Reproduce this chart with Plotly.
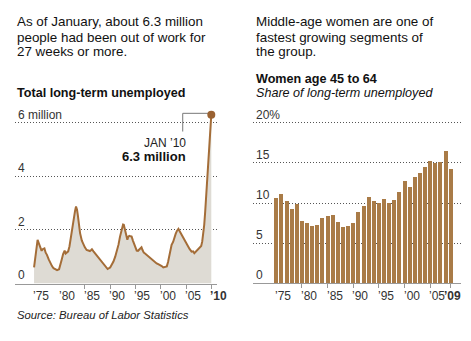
import plotly.graph_objects as go

# ---------------- data ----------------
lt_years = [1974.95, 1975.3, 1975.65, 1975.9, 1976.2, 1976.45, 1976.65, 1977.0, 1977.25, 1977.5,
            1977.85, 1978.2, 1978.5, 1978.8, 1979.15, 1979.5, 1979.9, 1980.2, 1980.4, 1980.7,
            1981.0, 1981.2, 1981.45, 1981.7, 1981.95, 1982.2, 1982.4, 1982.65, 1982.85, 1983.05,
            1983.25, 1983.45, 1983.6, 1983.85, 1984.05, 1984.4, 1984.7, 1985.0, 1985.35, 1985.7,
            1986.0, 1986.2, 1986.4, 1986.7, 1987.0, 1987.35, 1987.7, 1988.05, 1988.4, 1988.7,
            1989.0, 1989.25, 1989.5, 1989.75, 1990.0, 1990.3, 1990.65, 1991.0, 1991.3, 1991.65,
            1991.95, 1992.2, 1992.4, 1992.55, 1992.7, 1992.9, 1993.05, 1993.2, 1993.4, 1993.6,
            1993.8, 1994.05, 1994.25, 1994.5, 1994.8, 1995.05, 1995.25, 1995.5, 1995.7, 1996.0,
            1996.2, 1996.4, 1996.65, 1996.9, 1997.2, 1997.5, 1997.85, 1998.2, 1998.5, 1998.85,
            1999.2, 1999.5, 1999.85, 2000.2, 2000.5, 2000.85, 2001.2, 2001.45, 2001.65, 2001.9,
            2002.15, 2002.45, 2002.7, 2002.95, 2003.2, 2003.5, 2003.75, 2003.95, 2004.2, 2004.5,
            2004.8, 2005.1, 2005.4, 2005.7, 2006.1, 2006.4, 2006.65, 2006.9, 2007.1, 2007.4,
            2007.75, 2008.0, 2008.2, 2008.4, 2008.6, 2008.8, 2008.95, 2009.1, 2009.2, 2009.4,
            2009.55, 2009.75, 2009.9, 2010.0]
lt_millions = [0.6, 1.2, 1.63, 1.5, 1.38, 1.22, 1.28, 1.31, 1.15, 1.07,
               0.9, 0.75, 0.65, 0.57, 0.52, 0.5, 0.53, 0.7, 0.88, 1.1,
               1.23, 1.12, 1.15, 1.2, 1.38, 1.7, 2.0, 2.35, 2.62, 2.7,
               2.87, 2.75, 2.56, 2.2, 1.88, 1.6, 1.44, 1.35, 1.25, 1.22,
               1.21, 1.24, 1.28, 1.2, 1.13, 1.04, 0.94, 0.85, 0.78, 0.7,
               0.65, 0.6, 0.54, 0.57, 0.6, 0.7, 0.82, 1.0, 1.19, 1.45,
               1.75, 2.0, 2.15, 2.2, 2.19, 2.05, 1.94, 1.8, 1.63, 1.75,
               1.78, 1.76, 1.75, 1.6, 1.44, 1.3, 1.23, 1.22, 1.25, 1.3,
               1.35, 1.25, 1.15, 1.12, 1.07, 1.0, 0.94, 0.9, 0.84, 0.8,
               0.75, 0.72, 0.69, 0.65, 0.6, 0.62, 0.64, 0.8, 1.0, 1.2,
               1.44, 1.55, 1.75, 1.85, 1.96, 2.04, 1.95, 1.88, 1.8, 1.69,
               1.6, 1.47, 1.38, 1.29, 1.19, 1.2, 1.13, 1.18, 1.23, 1.26,
               1.32, 1.4, 1.56, 1.85, 2.19, 2.7, 3.18, 3.7, 4.18, 4.7,
               5.18, 5.8, 6.0, 6.3]

women_years = list(range(1975, 2010))
women_share = [10.6, 11.1, 10.25, 9.3, 9.9, 7.8, 7.5, 7.1, 7.2, 8.1,
               8.4, 8.5, 7.6, 7.0, 7.1, 7.5, 8.9, 9.6, 10.8, 10.3,
               9.95, 10.5, 9.95, 10.4, 11.4, 12.7, 12.0, 13.25, 13.7, 14.5,
               15.2, 15.0, 15.05, 16.5, 14.25]

left_tick_vals = [1975, 1980, 1985, 1990, 1995, 2000, 2005, 2010]
left_tick_text = ["’75", "’80", "’85", "’90", "’95", "’00", "’05", "<b>’10</b>"]
right_tick_vals = [1975, 1980, 1985, 1990, 1995, 2000, 2005, 2009]
right_tick_text = ["’75", "’80", "’85", "’90", "’95", "’00", "’05", "<b>’09</b>"]
left_y_vals = [0, 2, 4, 6]
left_y_text = ["0", "2", "4", "6 million"]
right_y_vals = [0, 5, 10, 15, 20]
right_y_text = ["0", "5", "10", "15", "20%"]

# ---------------- figure ----------------
W, H = 471, 341
FONT = "Liberation Sans, Arial, Helvetica, sans-serif"
LINE_C = "#a46d38"
FILL_C = "#dedbd4"
BAR_C = "#a97b47"
GRID_C = "#555555"
AX_C = "#999999"


def px_x(p):
    return p / W


def px_y(p):
    return 1 - p / H


fig = go.Figure()

fig.add_trace(go.Scatter(
    x=lt_years, y=lt_millions, mode="lines",
    line=dict(color=LINE_C, width=2),
    fill="tozeroy", fillcolor=FILL_C,
    xaxis="x", yaxis="y", hoverinfo="skip", showlegend=False))

fig.add_trace(go.Scatter(
    x=[lt_years[-1]], y=[lt_millions[-1]], mode="markers",
    marker=dict(color="#9a6232", size=8),
    xaxis="x", yaxis="y", hoverinfo="skip", showlegend=False, cliponaxis=False))

fig.add_trace(go.Bar(
    x=women_years, y=women_share, marker=dict(color=BAR_C, line=dict(width=0)),
    width=0.78, xaxis="x2", yaxis="y2", hoverinfo="skip", showlegend=False))

# axis geometry (pixels)
L_x0, L_x1 = 15, 217
R_x0, R_x1 = 253, 461
base_px = 283.5
top_px = 100

l_ppy = (211.3 - 34.3) / 35.0
l_range = [1975 - (34.3 - L_x0) / l_ppy, 2010 + (L_x1 - 211.3) / l_ppy]
r_ppy = (450.7 - 276.3) / 34.0
r_range = [1975 - (276.3 - R_x0) / r_ppy, 2009 + (R_x1 - 450.7) / r_ppy]
l_yppu = (283.5 - 122.7) / 6.0
r_yppu = (283.3 - 122.7) / 20.0

tickfont = dict(family=FONT, size=12, color="#333333")

xcommon = dict(showgrid=False, zeroline=False, showline=True, linecolor=AX_C, linewidth=1,
               ticks="outside", ticklen=4, tickcolor=AX_C, showticklabels=False,
               fixedrange=True)
ycommon = dict(showgrid=True, gridcolor=GRID_C, griddash="1px,2px", gridwidth=1,
               zeroline=False, showline=False, ticks="", tickfont=tickfont,
               ticklabelposition="inside top", layer="above traces", fixedrange=True)

fig.update_layout(
    width=W, height=H, autosize=False,
    margin=dict(l=0, r=0, t=0, b=0, pad=0),
    paper_bgcolor="white", plot_bgcolor="white",
    font=dict(family=FONT, color="#222222"),
    xaxis=dict(domain=[px_x(L_x0), px_x(L_x1)], range=l_range,
               tickvals=left_tick_vals, anchor="y", **xcommon),
    yaxis=dict(domain=[px_y(base_px), px_y(top_px)], range=[0, (base_px - top_px) / l_yppu],
               tickvals=left_y_vals, ticktext=left_y_text, anchor="x", **ycommon),
    xaxis2=dict(domain=[px_x(R_x0), px_x(R_x1)], range=r_range,
                tickvals=right_tick_vals, anchor="y2", **xcommon),
    yaxis2=dict(domain=[px_y(283.3), px_y(top_px)], range=[0, (283.3 - top_px) / r_yppu],
                tickvals=right_y_vals, ticktext=right_y_text, anchor="x2", **ycommon),
    bargap=0,
)

# leader line for Jan '10
lead_x = 2004.35
fig.add_shape(type="line", xref="x", yref="y", x0=lt_years[-1], y0=6.35, x1=lead_x, y1=6.35,
              line=dict(color="#777777", width=1), layer="below")
fig.add_shape(type="line", xref="x", yref="y", x0=lead_x, y0=6.35, x1=lead_x, y1=5.67,
              line=dict(color="#777777", width=1), layer="below")

ann = []
ann.append(dict(x=2005.4, y=5.26, xref="x", yref="y", text="JAN ’10", showarrow=False,
                xanchor="right", yanchor="middle", font=dict(family=FONT, size=12, color="#222")))
ann.append(dict(x=2005.4, y=4.73, xref="x", yref="y", text="<b>6.3 million</b>", showarrow=False,
                xanchor="right", yanchor="middle", font=dict(family=FONT, size=13, color="#111")))

# x tick labels, left-aligned at their ticks (last right label centred)
tick_y = px_y(296.3)
for v, t in zip(left_tick_vals, left_tick_text):
    ann.append(dict(x=v, y=tick_y, xref="x", yref="paper", text=t, showarrow=False,
                    xanchor="left", yanchor="middle", xshift=-3, font=tickfont))
for v, t in zip(right_tick_vals, right_tick_text):
    last = v == right_tick_vals[-1]
    ann.append(dict(x=v, y=tick_y, xref="x2", yref="paper", text=t, showarrow=False,
                    xanchor="center" if last else "left", yanchor="middle",
                    xshift=2 if last else -3, font=tickfont))

left_desc = ["As of January, about 6.3 million", "people had been out of work for",
             "27 weeks or more."]
right_desc = ["Middle-age women are one of", "fastest growing segments of", "the group."]
for i, t in enumerate(left_desc):
    ann.append(dict(x=px_x(15), y=px_y(22 + 15 * i), xref="paper", yref="paper", text=t,
                    showarrow=False, xanchor="left", yanchor="middle",
                    font=dict(family=FONT, size=13.4, color="#111")))
for i, t in enumerate(right_desc):
    ann.append(dict(x=px_x(254), y=px_y(22 + 15 * i), xref="paper", yref="paper", text=t,
                    showarrow=False, xanchor="left", yanchor="middle",
                    font=dict(family=FONT, size=13.4, color="#111")))

ann.append(dict(x=px_x(15), y=px_y(93.5), xref="paper", yref="paper",
                text="<b>Total long-term unemployed</b>", showarrow=False,
                xanchor="left", yanchor="middle", font=dict(family=FONT, size=12.6, color="#111")))
ann.append(dict(x=px_x(254), y=px_y(79.2), xref="paper", yref="paper",
                text="<b>Women age 45 to 64</b>", showarrow=False,
                xanchor="left", yanchor="middle", font=dict(family=FONT, size=12.6, color="#111")))
ann.append(dict(x=px_x(254), y=px_y(93.5), xref="paper", yref="paper",
                text="<i>Share of long-term unemployed</i>", showarrow=False,
                xanchor="left", yanchor="middle", font=dict(family=FONT, size=12.6, color="#111")))
ann.append(dict(x=px_x(15), y=px_y(315.3), xref="paper", yref="paper",
                text="<i>Source: Bureau of Labor Statistics</i>", showarrow=False,
                xanchor="left", yanchor="middle", font=dict(family=FONT, size=11.3, color="#222")))

fig.update_layout(annotations=ann)

fig.write_html("out.html")
